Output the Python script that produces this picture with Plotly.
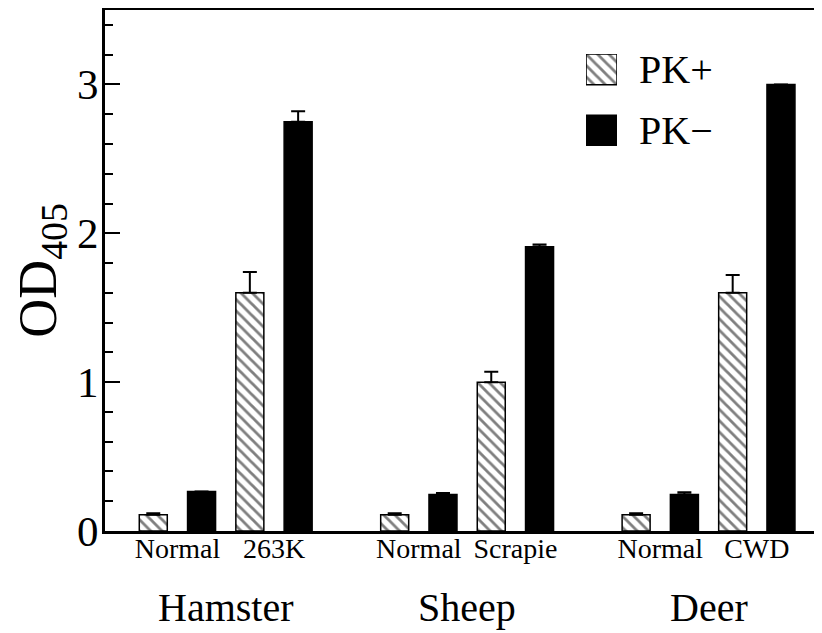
import plotly.graph_objects as go

# ---- data ----
groups = ["Hamster", "Sheep", "Deer"]
conditions = ["Normal", "263K", "Normal", "Scrapie", "Normal", "CWD"]
series_names = ["PK+", "PK\u2212"]
pk_plus = [0.11, 1.60, 0.11, 1.00, 0.11, 1.60]
pk_plus_err = [0.01, 0.14, 0.01, 0.07, 0.01, 0.12]
pk_minus = [0.265, 2.75, 0.245, 1.91, 0.245, 3.00]
pk_minus_err = [0.0, 0.07, 0.01, 0.015, 0.015, 0.0]

# ---- layout helpers ----
FONT = "Liberation Serif, Times New Roman, serif"
GROUP_GAP = 5
base_pos = [g * GROUP_GAP + c * 2 for g in range(len(groups)) for c in range(2)]
plus_x = base_pos
minus_x = [p + 1 for p in base_pos]
pair_centers = [p + 0.5 for p in base_pos]
group_centers = [g * GROUP_GAP + 1.5 for g in range(len(groups))]

XR = [-1.0, 13.85]
YR = [0, 3.5]
BW = 0.58
hatch = dict(shape="\\", fgcolor="black", bgcolor="white", size=8, solidity=0.35)
plus_marker = dict(color="white", line=dict(color="black", width=1.5), pattern=hatch)
minus_marker = dict(color="black", line=dict(color="black", width=1.5))

fig = go.Figure()
fig.add_trace(go.Bar(
    x=plus_x, y=pk_plus, width=BW, name=series_names[0], marker=plus_marker,
    error_y=dict(type="data", symmetric=False, array=pk_plus_err,
                 arrayminus=[0] * len(pk_plus), color="black", thickness=2, width=7),
    showlegend=False))
fig.add_trace(go.Bar(
    x=minus_x, y=pk_minus, width=BW, name=series_names[1], marker=minus_marker,
    error_y=dict(type="data", symmetric=False, array=pk_minus_err,
                 arrayminus=[0] * len(pk_minus), color="black", thickness=2, width=7),
    showlegend=False))
# invisible helper so the right-hand tick axis is drawn
fig.add_trace(go.Scatter(x=minus_x, y=pk_minus, yaxis="y2", mode="markers",
                         marker=dict(opacity=0), hoverinfo="skip", showlegend=False))

# legend keys (drawn as bars on a tiny inset axis so the hatch pattern shows)
fig.add_trace(go.Bar(x=[0], y=[1], base=[2], width=1, xaxis="x3", yaxis="y3",
                     marker=plus_marker, showlegend=False, hoverinfo="skip"))
fig.add_trace(go.Bar(x=[0], y=[1], base=[0], width=1, xaxis="x3", yaxis="y3",
                     marker=minus_marker, showlegend=False, hoverinfo="skip"))

annotations = [
    dict(xref="x3", yref="y3", x=0.5, y=2.5, text=series_names[0], xanchor="left",
         yanchor="middle", xshift=20, showarrow=False, font=dict(size=40)),
    dict(xref="x3", yref="y3", x=0.5, y=0.5, text=series_names[1], xanchor="left",
         yanchor="middle", xshift=20, showarrow=False, font=dict(size=40)),
]
for gc, gname in zip(group_centers, groups):
    annotations.append(dict(xref="x", yref="paper", x=gc, y=-0.146, text=gname,
                            xanchor="center", yanchor="middle", showarrow=False,
                            font=dict(size=40)))

fig.update_layout(
    width=814, height=625,
    margin=dict(l=97, r=0, t=2, b=102),
    plot_bgcolor="white", paper_bgcolor="white",
    barmode="overlay", showlegend=False,
    font=dict(family=FONT, color="black"),
    xaxis=dict(range=XR, showline=True, linewidth=3, linecolor="black", mirror=True,
               tickmode="array", tickvals=pair_centers, ticktext=conditions, ticks="",
               tickfont=dict(size=28), showgrid=False, zeroline=False,
               ticklabelstandoff=-10),
    yaxis=dict(range=YR, showline=True, linewidth=3, linecolor="black",
               ticks="inside", ticklen=15, tickwidth=1.5, tickcolor="black",
               tick0=0, dtick=1, tickfont=dict(size=43),
               minor=dict(dtick=0.2, ticks="inside", ticklen=8, tickwidth=1.5,
                          tickcolor="black"),
               showgrid=False, zeroline=False, ticklabelstandoff=-5,
               title=dict(text="OD<sub>405</sub>", font=dict(size=54), standoff=23)),
    yaxis2=dict(overlaying="y", side="right", anchor="x", range=YR,
                ticks="inside", ticklen=7, tickwidth=1.5, tickcolor="black",
                tick0=0, dtick=1, showticklabels=False,
                minor=dict(dtick=0.2, ticks="inside", ticklen=3, tickwidth=1.5,
                           tickcolor="black"),
                showgrid=False, zeroline=False, showline=False),
    xaxis3=dict(domain=[0.6709, 0.7141], range=[-0.5, 0.5], visible=False, anchor="y3"),
    yaxis3=dict(domain=[0.739, 0.9155], range=[0, 3], visible=False, anchor="x3"),
    annotations=annotations,
)

fig.write_html("out.html")
